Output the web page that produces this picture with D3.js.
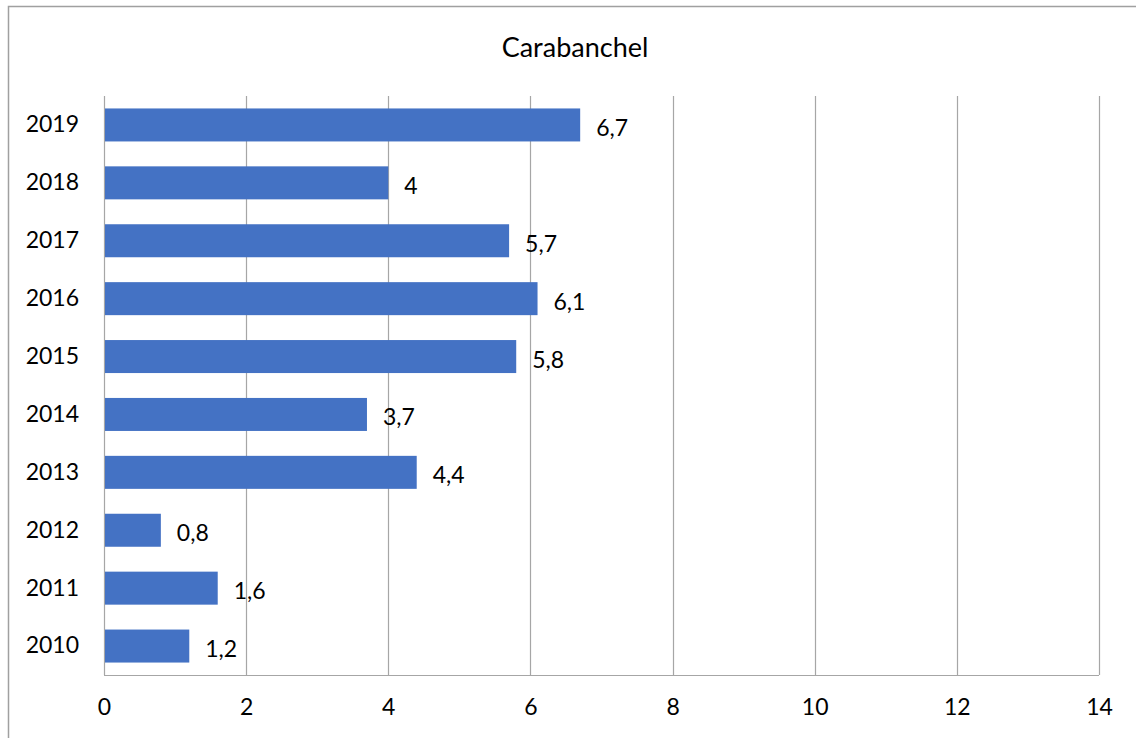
<!DOCTYPE html>
<html>
<head>
<meta charset="utf-8">
<script src="https://cdn.jsdelivr.net/npm/d3@7"></script>
<style>
  html, body { margin: 0; padding: 0; background: #fff; }
  svg { display: block; }
  text { font-family: Lato, "Open Sans", sans-serif; fill: #000; }
</style>
</head>
<body>
<svg id="chart" width="1136" height="738"></svg>
<script>
// Carabanchel yearly values
const years = ["2010", "2011", "2012", "2013", "2014", "2015", "2016", "2017", "2018", "2019"];
const values = [1.2, 1.6, 0.8, 4.4, 3.7, 5.8, 6.1, 5.7, 4.0, 6.7];
const xTicks = [0, 2, 4, 6, 8, 10, 12, 14];
const title = "Carabanchel";

const svg = d3.select("#chart");
const W = 1136, H = 738;
const plot = { left: 104, right: 1099, top: 96, bottom: 675 };

// outer chart frame
svg.append("rect")
  .attr("x", 8.5).attr("y", 6.5)
  .attr("width", W + 20).attr("height", H + 20)
  .attr("fill", "#fff").attr("stroke", "#a0a0a0").attr("stroke-width", 1.5);

const x = d3.scaleLinear().domain([0, 14]).range([plot.left, plot.right]);
const y = d3.scaleBand()
  .domain(years.slice().reverse())
  .range([plot.top, plot.bottom])
  .paddingInner(0.43)
  .paddingOuter(0.215);

const fmt = v => String(v).replace(".", ",");

// vertical gridlines
svg.append("g")
  .selectAll("line")
  .data(xTicks)
  .join("line")
  .attr("x1", d => Math.round(x(d)) + 0.5)
  .attr("x2", d => Math.round(x(d)) + 0.5)
  .attr("y1", plot.top)
  .attr("y2", plot.bottom)
  .attr("stroke", "#a6a6a6")
  .attr("stroke-width", 1.2);

// bottom axis line
svg.append("line")
  .attr("x1", plot.left).attr("x2", plot.right)
  .attr("y1", plot.bottom + 0.5).attr("y2", plot.bottom + 0.5)
  .attr("stroke", "#a6a6a6").attr("stroke-width", 1.2);

// x axis tick labels
const xAxis = svg.append("g")
  .attr("transform", `translate(0,${plot.bottom})`)
  .call(d3.axisBottom(x).tickValues(xTicks).tickSize(0).tickPadding(24).tickFormat(d3.format("d")));
xAxis.select(".domain").remove();
xAxis.selectAll("text")
  .style("font-family", "Lato, 'Open Sans', sans-serif")
  .style("font-size", "23px")
  .attr("fill", "#000");

// y axis category labels
const yAxis = svg.append("g")
  .attr("transform", `translate(${plot.left},0)`)
  .call(d3.axisLeft(y).tickSize(0).tickPadding(25));
yAxis.select(".domain").remove();
yAxis.selectAll("text")
  .style("font-family", "Lato, 'Open Sans', sans-serif")
  .style("font-size", "23px")
  .attr("fill", "#000");

const rows = years.map((yr, i) => ({ year: yr, value: values[i] }));

// bars
svg.append("g")
  .selectAll("rect")
  .data(rows)
  .join("rect")
  .attr("x", x(0) + 1)
  .attr("y", d => y(d.year))
  .attr("width", d => x(d.value) - x(0) - 1)
  .attr("height", y.bandwidth())
  .attr("fill", "#4472c4");

// value labels
svg.append("g")
  .selectAll("text")
  .data(rows)
  .join("text")
  .attr("x", d => x(d.value) + 16)
  .attr("y", d => y(d.year) + y.bandwidth() / 2 + 2)
  .attr("dominant-baseline", "central")
  .style("font-size", "23px")
  .text(d => fmt(d.value));

// title
svg.append("text")
  .attr("x", 575)
  .attr("y", 46)
  .attr("text-anchor", "middle")
  .attr("dominant-baseline", "central")
  .style("font-size", "27px")
  .text(title);
</script>
</body>
</html>
